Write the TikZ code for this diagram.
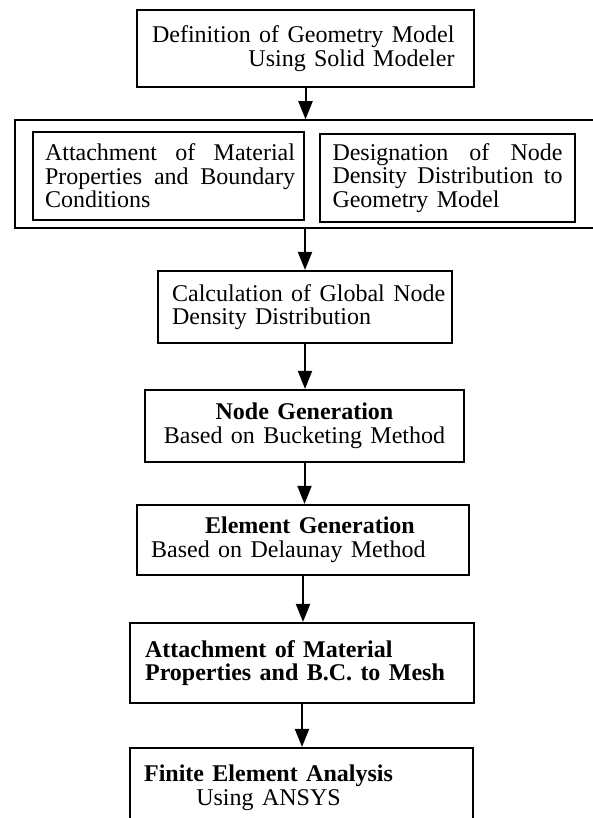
\documentclass[tikz,border=0pt]{standalone}
\usepackage{fontspec}
\setmainfont{Liberation Serif}[WordSpace=1.4]
\usepackage{tikz}
\usetikzlibrary{arrows.meta}
\tikzset{
    thinbox/.style={draw, line width=1.5pt, inner sep=0pt},
    flowbox/.style={draw, line width=2.2pt, inner sep=0pt},
    boxtext/.style={inner sep=0pt, font=\fontsize{24}{23.5}\selectfont},
    flowarrow/.style={line width=2pt, -{Triangle[length=18pt, width=14pt]}}
}

\begin{document}
\begin{tikzpicture}[x=1pt, y=-1pt]
    \useasboundingbox (0,0) rectangle (592,818);
    \node[thinbox, minimum width=337pt, minimum height=77pt](geom) at (305.5,48.5){};
    \node[boxtext, align=right, anchor=east] at ([xshift=-20pt]geom.east){
      Definition of Geometry Model\\Using Solid Modeler};

    \node[thinbox, minimum width=600pt, minimum height=108pt](prep) at (315,174){};
    \node[thinbox, minimum width=271pt, minimum height=88pt](attach) at (168.5,176){};
    \node[boxtext, text width=250pt, align=justify] at ([xshift=1.5pt]attach.center){
      Attachment of Material\linebreak Properties and Boundary\linebreak Conditions};
    \node[thinbox, minimum width=255pt, minimum height=88pt](density) at (447.5,178){};
    \node[boxtext, text width=230pt, align=justify] at (density.center){
      Designation of Node\linebreak Density Distribution to\linebreak Geometry Model};

    \node[flowbox, minimum width=294pt, minimum height=72pt](calc) at (305,307){};
    \node[boxtext, align=left, anchor=west] at ([xshift=15pt]calc.west){
      Calculation of Global Node\\Density Distribution};

    \node[flowbox, minimum width=319pt, minimum height=72pt](bucket) at (304.5,426){};
    \node[boxtext, align=center] at (bucket.center){
      \textbf{Node Generation}\\Based on Bucketing Method};

    \node[flowbox, minimum width=332pt, minimum height=70pt](delaunay) at (303,540){};
    \node[boxtext, align=left, anchor=west] at ([xshift=15pt]delaunay.west){
      \hspace*{54pt}\textbf{Element Generation}\\Based on Delaunay Method};

    \node[flowbox, minimum width=344pt, minimum height=80pt](mesh) at (302,663){};
    \node[boxtext, align=left, anchor=west, font=\fontsize{24}{23.5}\selectfont\bfseries]
      at ([xshift=16pt]mesh.west){Attachment of Material\\Properties and B.C. to Mesh};

    \node[flowbox, minimum width=343pt, minimum height=80pt](fea) at (301.5,788){};
    \node[boxtext, align=center, anchor=west] at ([xshift=15pt]fea.west){
      \textbf{Finite Element Analysis}\\Using ANSYS};

    \draw[flowarrow] (geom.south) -- (geom.south |- prep.north);
    \draw[flowarrow] (calc.north |- prep.south) -- (calc.north);
    \draw[flowarrow] (calc.south) -- (calc.south |- bucket.north);
    \draw[flowarrow] (bucket.south) -- (bucket.south |- delaunay.north);
    \draw[flowarrow] (delaunay.south) -- (delaunay.south |- mesh.north);
    \draw[flowarrow] (mesh.south) -- (mesh.south |- fea.north);
  \end{tikzpicture}
\end{document}
